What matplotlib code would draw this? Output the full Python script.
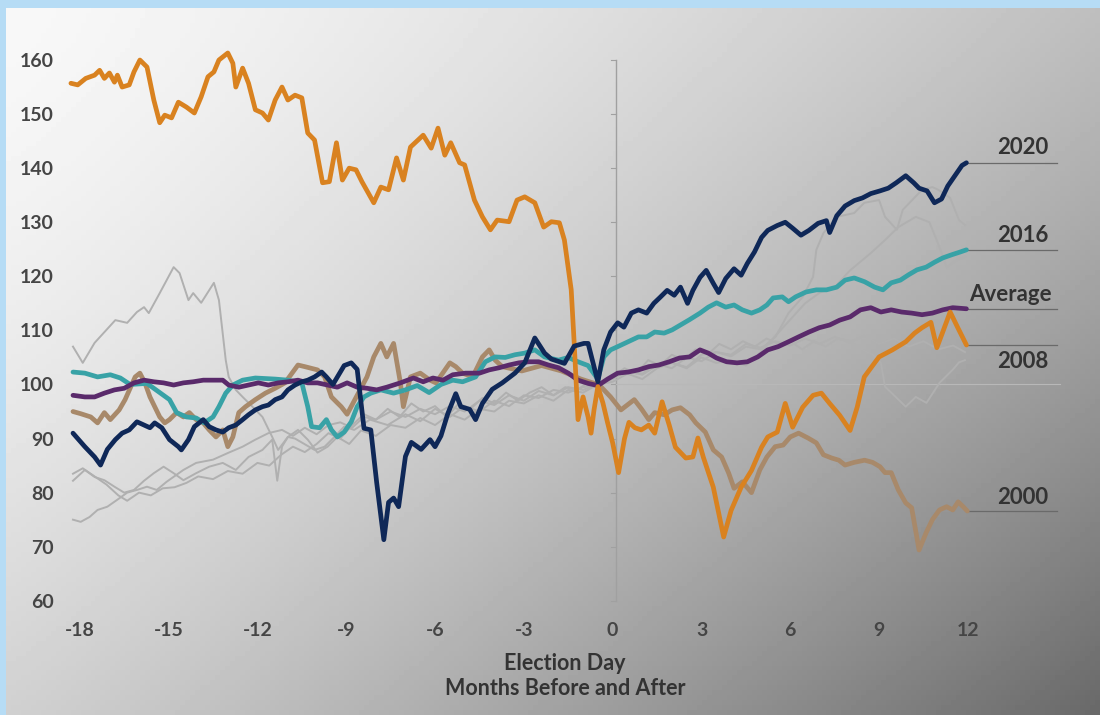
import numpy as np
import matplotlib.pyplot as plt

plt.rcParams['font.family'] = ['Lato', 'DejaVu Sans']

# ---- data: (months from election day, index) ----
m2020 = [-18.23, -17.83, -17.5, -17.3, -17.07, -16.8, -16.57, -16.33, -16.07, -15.83, -15.63, -15.47,
         -15.23, -14.97, -14.67, -14.57, -14.33, -14.13, -13.83, -13.63, -13.4, -13.17, -12.97, -12.73,
         -12.5, -12.3, -12.07, -11.83, -11.63, -11.4, -11.17, -10.97, -10.73, -10.5, -10.3, -10.07,
         -9.83, -9.67, -9.45, -9.07, -8.83, -8.63, -8.4, -8.17, -7.97, -7.73, -7.57, -7.4, -7.23, -7.0,
         -6.8, -6.47, -6.17, -6.0, -5.8, -5.57, -5.3, -5.13, -4.83, -4.63, -4.4, -4.07, -3.73, -3.3,
         -2.97, -2.63, -2.3, -2.07, -1.63, -1.3, -0.97, -0.83, -0.5, -0.3, -0.07, 0.17, 0.38, 0.63,
         0.87, 1.15, 1.39, 1.6, 1.84, 2.08, 2.29, 2.53, 2.71, 2.95, 3.16, 3.4, 3.58, 3.82, 4.1, 4.34,
         4.55, 4.79, 5.03, 5.24, 5.56, 5.83, 6.08, 6.36, 6.63, 6.94, 7.22, 7.33, 7.57, 7.85, 8.16,
         8.44, 8.72, 9.03, 9.31, 9.58, 9.9, 10.17, 10.35, 10.62, 10.87, 11.11, 11.32, 11.56, 11.8, 11.95]
v2020 = [91.0, 88.5, 86.6, 85.1, 88.0, 89.8, 91.0, 91.6, 93.1, 92.5, 92.0, 92.9,
         92.0, 89.8, 88.5, 87.9, 89.8, 92.2, 93.5, 92.2, 91.6, 91.2, 92.0, 92.5,
         93.5, 94.4, 95.3, 95.9, 96.2, 97.2, 97.7, 99.0, 99.9, 100.5, 100.8, 101.4,
         102.3, 101.4, 100.0, 103.5, 104.0, 102.8, 91.9, 91.6, 81.8, 71.3, 78.2, 79.0, 77.4, 86.7,
         89.3, 88.0, 89.8, 88.5, 90.5, 94.6, 98.3, 95.9, 95.4, 93.5, 96.5, 99.1, 100.3, 102.1,
         104.0, 108.6, 105.8, 104.7, 103.9, 107.1, 107.6, 107.6, 100.5, 106.4, 109.7, 111.4, 110.6, 113.2,
         113.8, 113.2, 115.0, 116.1, 117.4, 116.5, 118.0, 115.0, 117.4, 119.8, 121.1, 118.7, 117.0, 119.6, 121.4, 120.2,
         122.4, 124.5, 127.2, 128.5, 129.4, 130.0, 128.9, 127.6, 128.5, 129.8, 130.3, 128.1, 131.2, 133.0, 134.0,
         134.5, 135.3, 135.8, 136.3, 137.3, 138.6, 137.3, 136.3, 135.8, 133.6, 134.3, 136.7, 138.6, 140.5, 141.0]

m2016 = [-18.23, -17.83, -17.4, -16.97, -16.63, -16.3, -15.73, -14.97, -14.73, -14.4, -14.07, -13.8,
         -13.5, -13.3, -13.07, -12.83, -12.5, -12.07, -11.4, -10.97, -10.5, -10.3, -10.17, -9.9, -9.67,
         -9.5, -9.3, -9.07, -8.83, -8.63, -8.4, -8.17, -7.83, -7.4, -7.0, -6.6, -6.2, -5.8, -5.4, -5.07,
         -4.63, -4.3, -3.97, -3.63, -3.3, -2.97, -2.63, -2.3, -1.83, -1.5, -1.17, -0.83, -0.5, -0.3,
         -0.07, 0.17, 0.52, 0.87, 1.15, 1.42, 1.74, 2.01, 2.29, 2.6, 2.95, 3.23, 3.51, 3.82, 4.1, 4.38,
         4.69, 4.97, 5.21, 5.42, 5.73, 5.94, 6.18, 6.53, 6.88, 7.22, 7.57, 7.85, 8.16, 8.51, 8.85, 9.13,
         9.41, 9.72, 10.0, 10.28, 10.59, 10.87, 11.15, 11.46, 11.74, 11.95]
v2016 = [102.3, 102.1, 101.4, 101.8, 101.2, 100.0, 100.2, 97.2, 94.8, 94.0, 93.8, 92.9,
         94.0, 95.9, 98.4, 99.9, 100.8, 101.2, 101.0, 100.8, 100.3, 95.9, 92.2, 92.0, 93.5,
         91.6, 90.3, 91.2, 93.1, 95.9, 97.7, 98.4, 99.0, 98.4, 99.0, 99.8, 98.5, 100.0, 100.8, 100.5,
         101.4, 104.2, 105.1, 105.0, 105.5, 105.8, 106.4, 105.1, 104.5, 105.0, 104.2, 103.5, 101.0, 105.1,
         106.4, 107.0, 107.9, 108.8, 108.8, 109.7, 109.5, 110.1, 111.0, 112.0, 113.2, 114.3, 115.1, 114.3, 114.7, 113.8,
         113.2, 113.8, 114.7, 116.0, 116.2, 115.3, 116.2, 117.1, 117.5, 117.5, 118.0, 119.3, 119.7, 119.0, 118.0, 117.5,
         118.8, 119.3, 120.3, 121.2, 121.7, 122.6, 123.4, 124.0, 124.5, 124.9]

m_avg = [-18.23, -17.83, -17.5, -17.17, -16.83, -16.5, -16.17, -15.83, -15.5, -15.17, -14.83, -14.5,
         -14.17, -13.83, -13.5, -13.17, -12.97, -12.63, -12.3, -11.97, -11.63, -11.3, -10.97, -10.63,
         -10.3, -9.97, -9.63, -9.3, -8.97, -8.63, -8.3, -7.97, -7.63, -7.17, -6.73, -6.4, -6.07, -5.73,
         -5.4, -4.97, -4.5, -4.17, -3.83, -3.5, -3.17, -2.83, -2.5, -2.17, -1.83, -1.5, -1.17, -0.83,
         -0.5, -0.17, 0.17, 0.52, 0.87, 1.22, 1.56, 1.91, 2.26, 2.6, 2.95, 3.23, 3.51, 3.85, 4.2, 4.55,
         4.9, 5.24, 5.59, 5.94, 6.28, 6.63, 6.98, 7.33, 7.67, 8.02, 8.37, 8.72, 9.06, 9.41, 9.76, 10.1,
         10.45, 10.8, 11.15, 11.49, 11.95]
v_avg = [98.0, 97.7, 97.7, 98.4, 99.0, 99.3, 100.3, 100.8, 100.5, 100.3, 99.9, 100.3,
         100.5, 100.8, 100.8, 100.8, 99.9, 99.5, 99.9, 100.3, 99.9, 100.3, 100.5, 100.8,
         100.3, 100.3, 99.9, 99.5, 100.3, 99.5, 99.3, 99.0, 99.5, 100.3, 101.2, 100.5, 101.2, 100.8,
         101.8, 102.1, 102.1, 102.7, 103.1, 103.6, 104.0, 104.2, 104.2, 103.6, 103.1, 102.1, 100.8, 100.2,
         99.8, 101.0, 102.1, 102.3, 102.7, 103.3, 103.6, 104.2, 104.9, 105.1, 106.4, 105.8, 104.9, 104.2, 104.0, 104.2,
         105.1, 106.4, 107.0, 107.9, 108.8, 109.7, 110.5, 111.0, 111.9, 112.5, 113.8, 114.2, 113.4, 113.8, 113.4, 113.2,
         112.9, 113.2, 113.8, 114.2, 114.0]

m2008 = [-18.3, -18.07, -17.8, -17.5, -17.33, -17.17, -17.0, -16.83, -16.73, -16.57, -16.33, -16.17,
         -15.97, -15.73, -15.5, -15.3, -15.13, -14.9, -14.67, -14.4, -14.13, -13.9, -13.67, -13.47,
         -13.3, -13.0, -12.83, -12.73, -12.5, -12.3, -12.07, -11.83, -11.63, -11.4, -11.17, -10.97,
         -10.73, -10.5, -10.3, -10.07, -9.8, -9.57, -9.33, -9.13, -8.9, -8.67, -8.47, -8.07, -7.83,
         -7.57, -7.3, -7.07, -6.83, -6.4, -6.13, -5.9, -5.67, -5.47, -5.17, -5.0, -4.67, -4.4, -4.13,
         -3.9, -3.5, -3.23, -2.97, -2.63, -2.33, -2.07, -1.8, -1.63, -1.4, -1.3, -1.17, -1.0, -0.83,
         -0.73, -0.63, -0.5, -0.33, -0.17, 0.0, 0.2, 0.4, 0.55, 0.75, 0.97, 1.22, 1.42, 1.67, 1.91,
         2.12, 2.47, 2.71, 2.88, 3.06, 3.4, 3.75, 4.0, 4.34, 4.69, 5.03, 5.24, 5.56, 5.83, 6.08, 6.42,
         6.77, 7.05, 7.33, 7.67, 8.02, 8.26, 8.5, 8.85, 9.0, 9.45, 9.9, 10.2, 10.45, 10.75, 10.95,
         11.15, 11.4, 11.65, 11.95]
v2008 = [155.7, 155.4, 156.6, 157.2, 158.1, 156.6, 157.6, 155.9, 157.2, 155.0, 155.4, 157.8,
         160.0, 158.7, 152.6, 148.4, 149.8, 149.3, 152.2, 151.3, 150.2, 153.2, 156.9, 157.8,
         160.0, 161.3, 159.4, 155.0, 158.5, 155.7, 150.8, 150.2, 148.9, 152.6, 155.0, 152.6,
         153.5, 153.0, 146.5, 145.2, 137.3, 137.5, 144.7, 137.8, 140.0, 139.7, 137.5, 133.6, 136.5,
         136.0, 141.9, 137.8, 143.9, 146.1, 143.7, 147.4, 142.4, 144.7, 141.0, 140.6, 134.1, 131.0, 128.6,
         130.4, 130.1, 134.1, 134.7, 133.6, 129.1, 130.1, 129.9, 126.7, 117.5, 107.7, 93.5, 97.7, 94.0,
         91.0, 95.3, 99.6, 96.6, 92.9, 89.2, 83.7, 90.0, 93.0, 92.0, 91.6, 92.5, 91.0, 96.8, 92.5,
         88.4, 86.4, 86.6, 90.1, 86.6, 81.0, 71.8, 76.7, 81.0, 84.1, 88.4, 90.3, 91.2, 96.5, 92.1, 95.8,
         98.0, 98.4, 96.5, 94.3, 91.5, 95.8, 101.4, 104.0, 105.1, 106.4, 107.9, 109.5, 110.5, 111.5, 106.8,
         109.7, 113.4, 110.6, 107.3]

m2000 = [-18.23, -17.97, -17.63, -17.4, -17.17, -16.97, -16.67, -16.47, -16.13, -15.97, -15.8, -15.63,
         -15.47, -15.3, -15.13, -14.97, -14.73, -14.5, -14.3, -14.07, -13.83, -13.63, -13.4, -13.17,
         -13.0, -12.83, -12.63, -12.4, -12.07, -11.73, -11.4, -11.07, -10.83, -10.63, -10.4, -9.97,
         -9.73, -9.5, -9.3, -9.17, -8.97, -8.63, -8.3, -8.07, -7.83, -7.63, -7.4, -7.17, -7.07, -6.83,
         -6.5, -6.17, -5.97, -5.5, -5.3, -5.07, -4.73, -4.4, -4.17, -3.97, -3.73, -3.07, -2.4, -1.73,
         -1.07, -0.5, -0.4, -0.07, 0.28, 0.73, 0.97, 1.22, 1.42, 1.74, 2.01, 2.29, 2.6, 2.81, 3.13,
         3.4, 3.68, 3.92, 4.1, 4.38, 4.69, 4.97, 5.21, 5.49, 5.76, 6.0, 6.28, 6.6, 6.88, 7.12, 7.4,
         7.64, 7.85, 8.16, 8.51, 8.78, 9.03, 9.2, 9.41, 9.65, 9.9, 10.1, 10.35, 10.59, 10.8, 11.04,
         11.28, 11.49, 11.67, 11.84, 11.98]
v2000 = [95.0, 94.6, 94.0, 92.9, 94.8, 93.5, 95.3, 97.2, 101.4, 102.1, 100.3, 97.7,
         95.9, 94.0, 92.9, 93.5, 94.8, 94.0, 94.8, 93.5, 92.9, 91.6, 90.3, 91.6,
         88.5, 90.3, 94.8, 95.9, 97.2, 98.4, 99.3, 100.3, 102.1, 103.6, 103.3, 102.7,
         101.4, 97.7, 96.6, 95.9, 94.5, 98.0, 101.4, 105.1, 107.6, 105.1, 107.6, 100.3, 95.9, 101.4,
         102.1, 100.8, 100.3, 104.0, 103.3, 102.1, 101.4, 105.1, 106.4, 104.5, 103.3, 102.5, 103.5, 102.5,
         101.0, 100.0, 99.6, 97.7, 95.3, 97.2, 95.5, 93.5, 94.8, 94.4, 95.3, 95.7, 94.4, 92.9, 91.2,
         87.9, 86.6, 83.6, 80.8, 82.0, 80.0, 84.2, 86.6, 88.5, 88.8, 90.3, 91.0, 90.1, 89.2, 87.0, 86.4,
         86.0, 85.1, 85.6, 86.0, 85.6, 84.8, 83.7, 83.7, 80.5, 78.1, 77.2, 69.4, 72.6, 75.0, 76.8,
         77.4, 76.8, 78.3, 77.4, 76.6]

# other election years (thin grey)
m_g1 = [-18.23, -17.9, -17.5, -16.8, -16.4, -16.07, -15.83, -15.67, -15.3, -14.83, -14.63, -14.33,
        -14.17, -13.9, -13.47, -13.3, -13.07, -12.97, -12.73, -12.5, -12.17, -11.83, -11.5, -11.3,
        -10.97, -10.73, -10.07, -9.73, -9.4, -9.07, -8.73, -8.2, -7.6, -7.0, -6.5, -6.0, -5.5, -5.0,
        -4.5, -4.0, -3.5, -3.0, -2.5, -2.0, -1.5, -1.0, -0.5, 0.0, 0.5, 1.0, 1.5, 2.0, 2.5, 3.0, 3.5,
        4.0, 4.5, 5.0, 5.5, 5.94, 6.42, 6.77, 6.88, 7.12, 7.57, 8.16, 8.5, 9.0, 9.2, 9.6, 9.8, 10.1,
        10.45, 10.8, 11.0, 11.4, 11.7, 11.9]
v_g1 = [107.0, 104.0, 107.7, 111.9, 111.4, 113.4, 114.3, 113.2, 116.9, 121.7, 120.6, 115.6,
        116.9, 115.1, 118.8, 115.6, 104.5, 101.4, 99.0, 97.7, 95.9, 94.0, 90.3, 87.9,
        90.3, 90.0, 87.9, 88.5, 90.3, 92.2, 91.6, 93.5, 92.5, 94.5, 93.2, 95.5, 94.0, 96.0,
        95.0, 97.0, 96.0, 98.0, 97.5, 99.0, 98.5, 99.5, 100.0, 101.5, 102.5, 101.8, 103.5, 104.0, 103.2, 105.5, 106.0,
        105.2, 107.0, 106.5, 108.8, 113.2, 116.2, 119.9, 124.9, 128.0, 131.0, 131.7, 133.6, 134.1, 131.0, 128.6, 132.3, 134.0,
        136.0, 136.5, 136.0, 134.5, 130.4, 129.5]

m_g2 = [-18.23, -17.83, -17.5, -17.17, -16.83, -16.5, -16.17, -15.83, -15.5, -15.17, -14.83, -14.5,
        -14.07, -13.63, -13.17, -12.73, -12.3, -11.83, -11.5, -11.33, -11.17, -10.97, -10.63, -10.3,
        -9.97, -9.63, -9.3, -8.9, -8.5, -8.0, -7.5, -7.0, -6.5, -6.0, -5.5, -5.0, -4.5, -4.0, -3.5,
        -3.0, -2.5, -2.0, -1.5, -1.0, -0.5, 0.0, 0.5, 1.0, 1.5, 2.0, 2.5, 3.0, 3.5, 4.0, 4.5, 5.0, 5.5,
        6.0, 6.5, 7.0, 7.5, 8.0, 8.72, 9.2, 9.65, 10.24, 10.7, 11.04, 11.28, 11.63, 11.9]
v_g2 = [82.2, 84.2, 82.9, 82.3, 81.1, 80.0, 80.5, 82.2, 83.6, 84.8, 83.6, 82.3,
        83.6, 84.8, 85.5, 84.2, 86.6, 87.9, 89.8, 82.2, 88.5, 90.3, 91.6, 89.8,
        87.4, 88.5, 90.3, 89.0, 91.5, 90.5, 92.5, 92.0, 93.8, 92.5, 94.5, 93.5, 95.5, 95.0, 97.0,
        96.5, 98.0, 97.0, 99.0, 98.5, 100.0, 100.5, 102.0, 101.0, 103.0, 104.0, 103.0, 105.0, 104.0, 104.5, 103.5, 106.0, 109.0,
        112.0, 115.0, 117.0, 118.0, 121.0, 124.3, 126.7, 129.1, 131.0, 130.0, 125.4, 121.7, 123.0, 123.6]

m_g3 = [-18.23, -17.97, -17.67, -17.4, -17.07, -16.73, -16.4, -16.07, -15.73, -15.4, -15.07, -14.5,
        -14.07, -13.5, -12.97, -12.5, -12.07, -11.63, -11.17, -10.8, -10.4, -10.0, -9.6, -9.2, -8.8,
        -8.4, -8.0, -7.5, -7.0, -6.5, -6.0, -5.5, -5.0, -4.5, -4.0, -3.5, -3.0, -2.5, -2.0, -1.5, -1.0,
        -0.5, 0.0, 0.5, 1.0, 1.5, 2.0, 2.5, 3.0, 3.5, 4.0, 4.5, 5.0, 5.5, 6.0, 6.5, 7.0, 7.5, 8.0, 8.5,
        9.0, 9.5, 10.0, 10.5, 11.0, 11.5, 11.9]
v_g3 = [75.0, 74.6, 75.5, 76.8, 77.4, 78.7, 80.0, 80.5, 81.1, 80.5, 82.0, 84.2,
        85.5, 86.1, 87.4, 88.5, 89.8, 91.0, 91.6, 90.5, 92.0, 90.8, 92.5, 93.0, 92.0,
        94.0, 93.5, 95.0, 94.0, 95.5, 94.5, 96.0, 95.0, 97.0, 96.2, 98.0, 97.0, 98.8, 98.0, 99.5, 99.0,
        100.0, 101.0, 102.5, 102.0, 103.8, 103.0, 105.0, 104.3, 106.0, 105.5, 107.5, 106.8, 108.0, 107.2, 108.5, 107.5, 108.8, 107.8, 109.0,
        107.5, 108.5, 107.0, 108.0, 106.5, 107.2, 106.0]

m_g4 = [-18.23, -17.9, -17.5, -17.1, -16.7, -16.4, -16.0, -15.6, -15.2, -14.8, -14.4, -14.0, -13.5,
        -13.0, -12.5, -12.0, -11.6, -11.2, -10.8, -10.4, -10.0, -9.6, -9.2, -8.8, -8.4, -8.0, -7.6,
        -7.2, -6.8, -6.4, -6.0, -5.6, -5.2, -4.8, -4.4, -4.0, -3.6, -3.2, -2.8, -2.4, -2.0, -1.6, -1.2,
        -0.8, -0.5, 0.0, 0.4, 0.8, 1.2, 1.6, 2.0, 2.4, 2.8, 3.2, 3.6, 4.0, 4.4, 4.8, 5.2, 5.6, 6.0,
        6.4, 6.8, 7.2, 7.6, 8.0, 8.4, 8.8, 9.06, 9.2, 9.9, 10.24, 10.6, 11.04, 11.5, 11.7, 11.9]
v_g4 = [83.5, 84.5, 83.0, 81.5, 79.5, 78.5, 80.0, 79.5, 80.8, 81.0, 81.8, 83.0, 82.5,
        84.0, 83.5, 85.5, 85.0, 87.0, 88.5, 87.5, 89.0, 91.0, 90.0, 92.5, 94.5, 93.5, 95.5,
        94.0, 96.5, 95.0, 96.0, 94.0, 96.5, 95.5, 97.5, 96.5, 98.5, 97.0, 98.5, 99.5, 98.0, 99.5, 99.0,
        100.5, 100.0, 101.5, 103.0, 102.0, 104.5, 103.5, 105.5, 104.5, 106.5, 105.5, 107.5, 106.5, 108.0, 107.0, 108.5, 107.5, 108.0,
        106.5, 108.0, 107.0, 108.5, 108.0, 106.5, 105.5, 104.0, 99.6, 95.9, 97.7, 96.6, 100.3, 102.8, 104.1, 104.5]

grey_series = [(m_g1, v_g1), (m_g2, v_g2), (m_g3, v_g3), (m_g4, v_g4)]

# highlighted series: label, months, values, colour, label offset (pt), label x
highlighted = [
    ('2000', m2000, v2000, '#a8896a', 10, 13.0),
    ('2016', m2016, v2016, '#38a2a6', 10, 13.0),
    ('Average', m_avg, v_avg, '#5a2a6b', 10, 12.05),
    ('2008', m2008, v2008, '#d98220', -12, 13.0),
    ('2020', m2020, v2020, '#0f2858', 11, 13.0),
]

x_ticks = [-18, -15, -12, -9, -6, -3, 0, 3, 6, 9, 12]
y_ticks = [60, 70, 80, 90, 100, 110, 120, 130, 140, 150, 160]

fig = plt.figure(figsize=(11, 7.15), dpi=100)
fig.patch.set_facecolor('#b6dcf5')

# grey vignette like the photographed slide
bg = fig.add_axes([6 / 1100, 0, 1094 / 1100, 707 / 715])
xx, yy = np.meshgrid(np.linspace(0, 1, 220), np.linspace(0, 1, 143))
shade = 248 - 58 * xx ** 1.3 - 40 * yy ** 1.5 - 45 * xx * yy
bg.imshow(shade, cmap='gray', vmin=0, vmax=255, aspect='auto', extent=(0, 1, 1, 0))
bg.set_axis_off()

ax = fig.add_axes([65 / 1100, 105 / 715, 1000 / 1100, 570 / 715])
ax.patch.set_alpha(0)
ax.set_xlim(-18.5, 15.28)
ax.set_ylim(58.3, 163.7)
for s in ax.spines.values():
    s.set_visible(False)

# vertical divider at election day with small ticks, and the 100 reference line
ax.plot([0.1, 0.1], [y_ticks[0], y_ticks[-1]], color='#a0a0a0', lw=1.0, zorder=1)
for yt in y_ticks:
    ax.plot([-0.05, 0.1], [yt, yt], color='#a0a0a0', lw=0.8, zorder=1)
ax.plot([0.1, 15.1], [100, 100], color='#b8b8b8', lw=0.8, zorder=1)

for mx, vy in grey_series:
    ax.plot(mx, vy, color='#b0b0b0', lw=1.4, zorder=2)

for name, mx, vy, col, dy, tx in highlighted:
    ax.plot(mx, vy, color=col, lw=3.4, solid_joinstyle='round', solid_capstyle='round', zorder=4)
    ax.plot([mx[-1], 15.0], [vy[-1], vy[-1]], color='#6a6a6a', lw=0.9, zorder=3)
    ax.annotate(name, xy=(tx, vy[-1]), xytext=(0, dy), textcoords='offset points',
                ha='left', va='center', fontsize=16, fontweight='bold', color='#333333')

ax.set_xticks(x_ticks)
ax.set_xticklabels([str(t) for t in x_ticks])
ax.set_yticks(y_ticks)
ax.tick_params(length=0, labelsize=14, labelcolor='#454545')
for lab in ax.get_xticklabels() + ax.get_yticklabels():
    lab.set_fontweight('bold')
ax.tick_params(axis='x', pad=9)
ax.tick_params(axis='y', pad=8)

ax.set_xlabel('Election Day\nMonths Before and After', fontsize=15.5, fontweight='bold',
              color='#333333', labelpad=10, linespacing=1.2)

fig.savefig('out.png', dpi=100)
